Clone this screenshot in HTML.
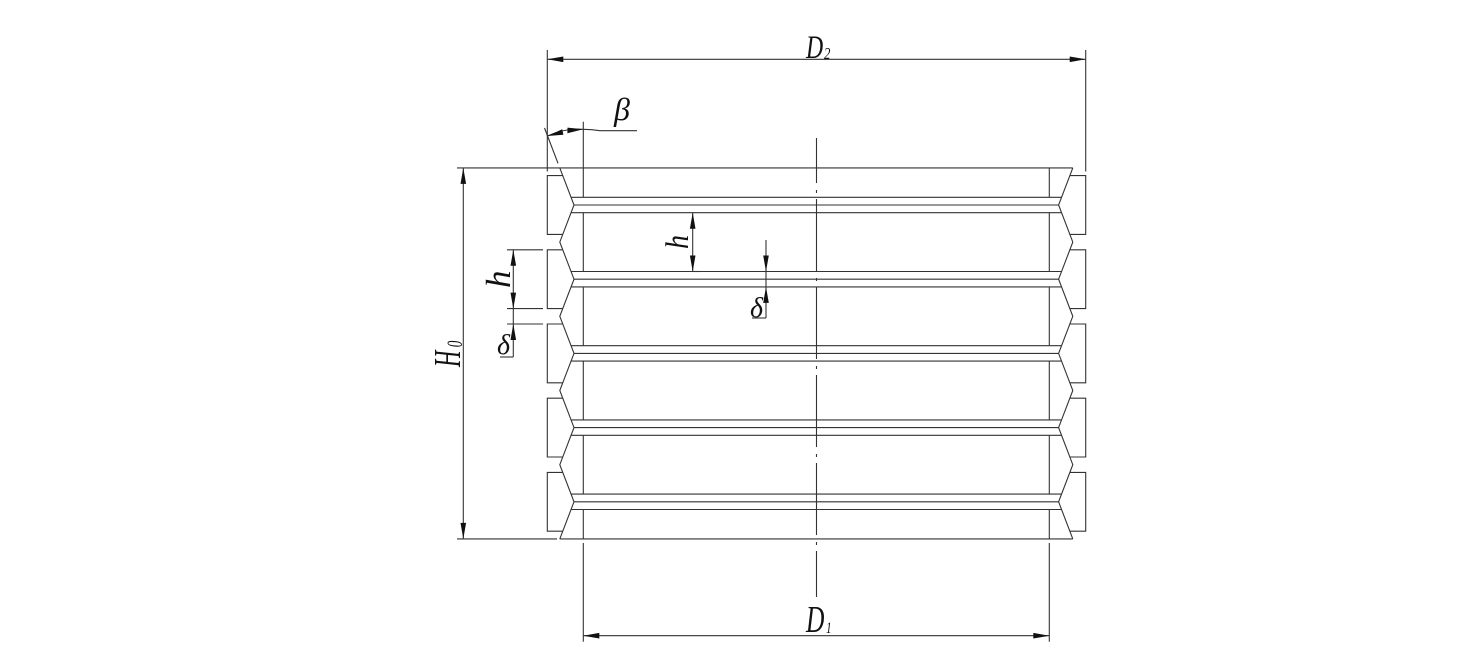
<!DOCTYPE html>
<html>
<head>
<meta charset="utf-8">
<style>
html,body{margin:0;padding:0;background:#fff;}
svg{display:block;}
text{font-family:"Liberation Serif","DejaVu Serif",serif;font-style:italic;fill:#111;}
</style>
</head>
<body>
<svg width="1480" height="670" viewBox="0 0 1480 670" xmlns="http://www.w3.org/2000/svg">
<g fill="none" stroke="#333" stroke-width="1.1">
  <line x1="457" y1="167.9" x2="1072.8" y2="167.9"/>
  <line x1="457" y1="538.9" x2="557" y2="538.9"/>
  <line x1="559.8" y1="538.9" x2="1072.8" y2="538.9"/>

  <polyline points="559.8,167.9 574,205 559.8,242.1 574,279.2 559.8,316.3 574,353.4 559.8,390.5 574,427.6 559.8,464.7 574,501.8 559.8,538.9"/>
  <polyline points="1072.8,167.9 1058.6,205 1072.8,242.1 1058.6,279.2 1072.8,316.3 1058.6,353.4 1072.8,390.5 1058.6,427.6 1072.8,464.7 1058.6,501.8 1072.8,538.9"/>

  <line x1="571.05" y1="197.3" x2="1061.55" y2="197.3"/>
  <line x1="574" y1="205" x2="1058.6" y2="205"/>
  <line x1="571.05" y1="212.7" x2="1061.55" y2="212.7"/>

  <line x1="571.05" y1="271.5" x2="1061.55" y2="271.5"/>
  <line x1="574" y1="279.2" x2="1058.6" y2="279.2"/>
  <line x1="571.05" y1="286.9" x2="1061.55" y2="286.9"/>

  <line x1="571.05" y1="345.7" x2="1061.55" y2="345.7"/>
  <line x1="574" y1="353.4" x2="1058.6" y2="353.4"/>
  <line x1="571.05" y1="361.1" x2="1061.55" y2="361.1"/>

  <line x1="571.05" y1="419.9" x2="1061.55" y2="419.9"/>
  <line x1="574" y1="427.6" x2="1058.6" y2="427.6"/>
  <line x1="571.05" y1="435.3" x2="1061.55" y2="435.3"/>

  <line x1="571.05" y1="494.1" x2="1061.55" y2="494.1"/>
  <line x1="574" y1="501.8" x2="1058.6" y2="501.8"/>
  <line x1="571.05" y1="509.5" x2="1061.55" y2="509.5"/>

  <path d="M562.75 175.6 H547.3 V234.4 H562.75"/>
  <path d="M562.75 249.8 H547.3 V308.6 H562.75"/>
  <path d="M562.75 324.0 H547.3 V382.8 H562.75"/>
  <path d="M562.75 398.2 H547.3 V457.0 H562.75"/>
  <path d="M562.75 472.4 H547.3 V531.2 H562.75"/>
  <path d="M1069.85 175.6 H1085.7 V234.4 H1069.85"/>
  <path d="M1069.85 249.8 H1085.7 V308.6 H1069.85"/>
  <path d="M1069.85 324.0 H1085.7 V382.8 H1069.85"/>
  <path d="M1069.85 398.2 H1085.7 V457.0 H1069.85"/>
  <path d="M1069.85 472.4 H1085.7 V531.2 H1069.85"/>

  <line x1="583.3" y1="121.7" x2="583.3" y2="197.3"/>
  <line x1="583.3" y1="212.7" x2="583.3" y2="271.5"/>
  <line x1="583.3" y1="286.9" x2="583.3" y2="345.7"/>
  <line x1="583.3" y1="361.1" x2="583.3" y2="419.9"/>
  <line x1="583.3" y1="435.3" x2="583.3" y2="494.1"/>
  <line x1="583.3" y1="509.5" x2="583.3" y2="538.9"/>
  <line x1="583.3" y1="543" x2="583.3" y2="641.7"/>
  <line x1="1049.3" y1="167.9" x2="1049.3" y2="197.3"/>
  <line x1="1049.3" y1="212.7" x2="1049.3" y2="271.5"/>
  <line x1="1049.3" y1="286.9" x2="1049.3" y2="345.7"/>
  <line x1="1049.3" y1="361.1" x2="1049.3" y2="419.9"/>
  <line x1="1049.3" y1="435.3" x2="1049.3" y2="494.1"/>
  <line x1="1049.3" y1="509.5" x2="1049.3" y2="538.9"/>
  <line x1="1049.3" y1="543" x2="1049.3" y2="641.7"/>

  <line x1="547.3" y1="50" x2="547.3" y2="171.5"/>
  <line x1="1085.7" y1="50" x2="1085.7" y2="171.5"/>
  <line x1="547.3" y1="59.3" x2="1085.7" y2="59.3"/>
  <line x1="583.3" y1="635.7" x2="1049.3" y2="635.7"/>
  <line x1="463.3" y1="167.9" x2="463.3" y2="538.9"/>

  <line x1="816.5" y1="138" x2="816.5" y2="597" stroke-dasharray="72 7 3 6" stroke-dashoffset="27"/>

  <line x1="544.5" y1="128" x2="558" y2="163.3"/>
  <path d="M547.3 136 Q565 128 583.3 129.3"/>
  <path d="M583.3 129.3 Q592 129.3 600 130.7 H637"/>

  <line x1="507" y1="249.8" x2="543" y2="249.8"/>
  <line x1="507" y1="308.6" x2="543" y2="308.6"/>
  <line x1="507" y1="324" x2="543" y2="324"/>
  <line x1="513.3" y1="249.8" x2="513.3" y2="357"/>
  <line x1="500" y1="357" x2="513.3" y2="357"/>

  <line x1="692.7" y1="212.7" x2="692.7" y2="271.5"/>
  <line x1="692.7" y1="271.5" x2="700" y2="271.5"/>
  <line x1="766" y1="240" x2="766" y2="318"/>
  <line x1="752" y1="318" x2="766" y2="318"/>
</g>

<g fill="#111" stroke="none">
  <polygon points="547.3,59.3 563.3,56.5 563.3,62.1"/>
  <polygon points="1085.7,59.3 1069.7,56.5 1069.7,62.1"/>
  <polygon points="583.3,635.7 599.3,632.9 599.3,638.5"/>
  <polygon points="1049.3,635.7 1033.3,632.9 1033.3,638.5"/>
  <polygon points="463.3,167.9 460.5,183.9 466.1,183.9"/>
  <polygon points="463.3,538.9 460.5,522.9 466.1,522.9"/>
  <polygon points="513.3,249.8 510.5,265.8 516.1,265.8"/>
  <polygon points="513.3,308.6 510.5,292.6 516.1,292.6"/>
  <polygon points="513.3,324 510.5,340 516.1,340"/>
  <polygon points="692.7,212.7 689.9,228.7 695.5,228.7"/>
  <polygon points="692.7,271.5 689.9,255.5 695.5,255.5"/>
  <polygon points="766,271.5 763.2,255.5 768.8,255.5"/>
  <polygon points="766,286.9 763.2,302.9 768.8,302.9"/>
  <polygon points="547.3,136 562.2,129.3 563.4,134.7"/>
  <polygon points="583.3,129.3 567.5,127.6 567.4,133.2"/>
</g>

<text transform="translate(806,58) scale(0.72,1)" font-size="33">D</text>
<text transform="translate(824,59) scale(0.75,1)" font-size="17">2</text>

<text transform="translate(806,632) scale(0.67,1)" font-size="38">D</text>
<text transform="translate(826,633) scale(0.7,1)" font-size="16">1</text>

<text x="614" y="120" font-size="32">β</text>

<g transform="translate(460,367) rotate(-90) scale(0.6,1)">
  <text x="0" y="0" font-size="38">H</text>
  <text x="33" y="2" font-size="22">0</text>
</g>

<text transform="translate(510,288) rotate(-90)" font-size="35">h</text>
<text transform="translate(688,249) rotate(-90) scale(0.85,1)" font-size="33">h</text>

<text x="497" y="354" font-size="28">δ</text>
<text x="750" y="317" font-size="28">δ</text>
</svg>
</body>
</html>
